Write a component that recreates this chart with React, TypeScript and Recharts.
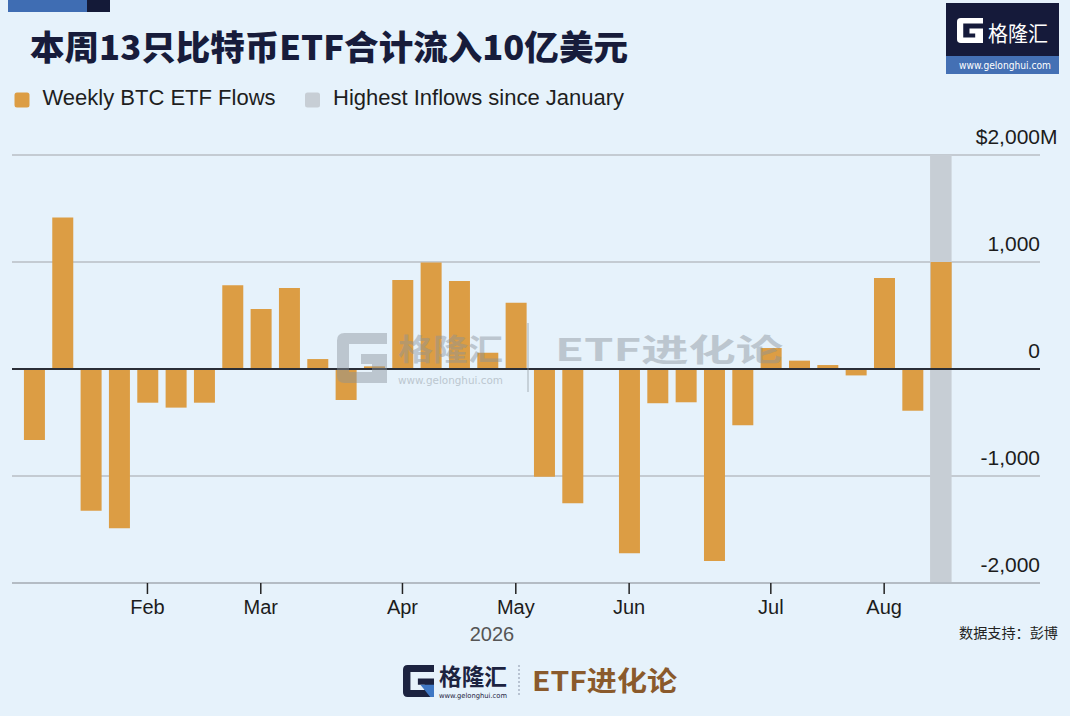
import React from "react";
import {
  Bar,
  BarChart,
  CartesianGrid,
  ReferenceArea,
  ReferenceLine,
  XAxis,
  YAxis,
} from "recharts";

// weekly net flows, $M (Jan -> Aug)
const flows = [
  -664, 1417, -1324, -1489, -315, -361, -315, 782, 561, 757, 93, -290, 25,
  831, 995, 822, 152, 620, -1008, -1255, 5, -1723, -320, -311, -1794, -526,
  196, 78, 37, -60, 850, -390, 1000,
];

const monthTicks = [4, 8, 13, 17, 21, 26, 30];
const monthLabels = ["Feb", "Mar", "Apr", "May", "Jun", "Jul", "Aug"];
const yTicks = [-2000, -1000, 0, 1000, 2000];
const highlightWeek = 32;

const legendItems = [
  { label: "Weekly BTC ETF Flows", color: "#dc9d44" },
  { label: "Highest Inflows since January", color: "#c7ced5" },
];

const data = flows.map((flow, week) => ({ week, flow }));

const BG = "#e6f2fb";
const ORANGE = "#dc9d44";
const BAND = "#c7ced5";
const NAVY = "#171c3b";
const LATIN = "'DejaVu Sans', sans-serif";
const HELV = "'Liberation Sans', Arial, sans-serif";
const CJK = "'Noto Sans CJK SC', sans-serif";

function YTick({ x, y, payload }: any) {
  const v = payload.value as number;
  const style = { fontSize: 21, fontFamily: HELV, fill: "#1c1c1c" };
  if (v === 2000) {
    return (
      <g>
        <text x={x} y={y - 11} textAnchor="end" style={style}>
          $2,000
        </text>
        <text x={x} y={y - 11} textAnchor="start" style={style}>
          M
        </text>
      </g>
    );
  }
  return (
    <text x={x} y={y - 11} textAnchor="end" style={style}>
      {v.toLocaleString("en-US")}
    </text>
  );
}

function GIcon({ x, y, w, h, fill, accent }: any) {
  return (
    <g transform={`translate(${x},${y}) scale(${w / 100},${h / 100})`}>
      <path
        d="M0,15 Q0,0 15,0 H100 V22 H24 V78 H70 V62 H48 V42 H100 V100 H15 Q0,100 0,85 Z"
        fill={fill}
      />
      {accent && <path d="M56,62 H100 V100 H88 Z" fill={accent} />}
    </g>
  );
}

export default function App() {
  return (
    <div
      style={{
        position: "absolute",
        left: 0,
        top: 0,
        width: 1070,
        height: 716,
        background: BG,
        overflow: "hidden",
      }}
    >
      <BarChart
        width={1070}
        height={716}
        data={data}
        margin={{ top: 155, right: 0, bottom: 103, left: 12 }}
        barSize={21}
      >
        <CartesianGrid vertical={false} stroke="#c4cbd2" strokeWidth={2} />
        <ReferenceArea
          x1={highlightWeek - 0.38}
          x2={highlightWeek + 0.38}
          y1={-2000}
          y2={2000}
          fill={BAND}
          fillOpacity={1}
          stroke="none"
        />
        <ReferenceLine y={0} stroke="#2a2e37" strokeWidth={2} />
        <Bar dataKey="flow" fill={ORANGE} isAnimationActive={false} />
        <XAxis
          dataKey="week"
          type="number"
          domain={[-0.78, 35.5]}
          allowDataOverflow
          ticks={monthTicks}
          interval={0}
          tickFormatter={(v) => monthLabels[monthTicks.indexOf(v)]}
          axisLine={{ stroke: "#b4bcc4", strokeWidth: 2 }}
          tickLine={{ stroke: "#222", strokeWidth: 1.5 }}
          tickSize={11}
          tickMargin={6}
          height={30}
          tick={{ fontSize: 20, fill: "#1c1c1c", fontFamily: HELV }}
        />
        <YAxis
          orientation="right"
          width={30}
          domain={[-2000, 2000]}
          ticks={yTicks}
          axisLine={false}
          tickLine={false}
          tickSize={0}
          tickMargin={0}
          tick={<YTick />}
        />
      </BarChart>

      <svg
        width={1070}
        height={716}
        style={{ position: "absolute", left: 0, top: 0, pointerEvents: "none" }}
      >
        {/* header strip */}
        <rect x={8} y={0} width={79} height={12} fill="#3f6db3" />
        <rect x={87} y={0} width={23} height={12} fill="#141a38" />

        <text
          x={30}
          y={60}
          textLength={598}
          lengthAdjust="spacingAndGlyphs"
          style={{ fontSize: 34, fontWeight: 900, fontFamily: CJK, fill: NAVY }}
        >
          本周13只比特币ETF合计流入10亿美元
        </text>

        {/* legend */}
        {legendItems.map((item, i) => {
          const lx = i === 0 ? 14.5 : 305;
          return (
            <g key={item.label}>
              <rect x={lx} y={92.5} width={15} height={15} rx={2.5} fill={item.color} />
              <text
                x={lx + 28}
                y={105}
                style={{ fontSize: 22, fontFamily: HELV, fill: "#1e1e1e" }}
              >
                {item.label}
              </text>
            </g>
          );
        })}

        {/* top-right logo */}
        <rect x={946} y={3} width={113} height={53} fill="#151a3a" />
        <rect x={946} y={56} width={113} height={18} fill="#4470b4" />
        <GIcon x={957} y={18} w={26} h={25} fill="#ffffff" />
        <text
          x={988}
          y={41}
          textLength={60}
          lengthAdjust="spacingAndGlyphs"
          style={{ fontSize: 21, fontFamily: CJK, fill: "#ffffff" }}
        >
          格隆汇
        </text>
        <text
          x={959}
          y={69}
          textLength={92}
          lengthAdjust="spacingAndGlyphs"
          style={{ fontSize: 10, fontFamily: LATIN, fill: "#ffffff" }}
        >
          www.gelonghui.com
        </text>

        {/* watermark */}
        <g opacity={0.45}>
          <GIcon x={337} y={333} w={50} h={50} fill="#8a929a" />
          <text
            x={398}
            y={360}
            textLength={105}
            lengthAdjust="spacingAndGlyphs"
            style={{ fontSize: 30, fontWeight: 700, fontFamily: CJK, fill: "#8a929a" }}
          >
            格隆汇
          </text>
          <text
            x={398}
            y={384}
            textLength={105}
            lengthAdjust="spacingAndGlyphs"
            style={{ fontSize: 11, fontFamily: LATIN, fill: "#8a929a" }}
          >
            www.gelonghui.com
          </text>
          <line x1={528} y1={323} x2={528} y2={392} stroke="#8a929a" strokeWidth={1.5} />
          <text
            x={555}
            y={361}
            textLength={228}
            lengthAdjust="spacingAndGlyphs"
            style={{ fontSize: 31, fontWeight: 700, fontFamily: CJK, fill: "#8a929a" }}
          >
            ETF进化论
          </text>
        </g>

        {/* axis captions */}
        <text
          x={492}
          y={641}
          textAnchor="middle"
          style={{ fontSize: 20, fontFamily: HELV, fill: "#555" }}
        >
          2026
        </text>
        <text
          x={959}
          y={638}
          textLength={99}
          lengthAdjust="spacingAndGlyphs"
          style={{ fontSize: 14, fontFamily: CJK, fill: "#222" }}
        >
          数据支持：彭博
        </text>

        {/* bottom logo */}
        <GIcon x={403} y={665} w={31} h={32} fill="#1c2340" accent="#3f78c4" />
        <text
          x={439}
          y={685}
          textLength={68}
          lengthAdjust="spacingAndGlyphs"
          style={{ fontSize: 23, fontWeight: 700, fontFamily: CJK, fill: "#1c2340" }}
        >
          格隆汇
        </text>
        <text
          x={439}
          y={698}
          textLength={68}
          lengthAdjust="spacingAndGlyphs"
          style={{ fontSize: 7, fontFamily: LATIN, fill: "#1c2340" }}
        >
          www.gelonghui.com
        </text>
        <line
          x1={519}
          y1={665}
          x2={519}
          y2={697}
          stroke="#8a94a8"
          strokeWidth={1}
          strokeDasharray="2 2"
        />
        <text
          x={532}
          y={691}
          textLength={145}
          lengthAdjust="spacingAndGlyphs"
          style={{ fontSize: 27, fontWeight: 700, fontFamily: CJK, fill: "#8a5a2c" }}
        >
          ETF进化论
        </text>
      </svg>
    </div>
  );
}
